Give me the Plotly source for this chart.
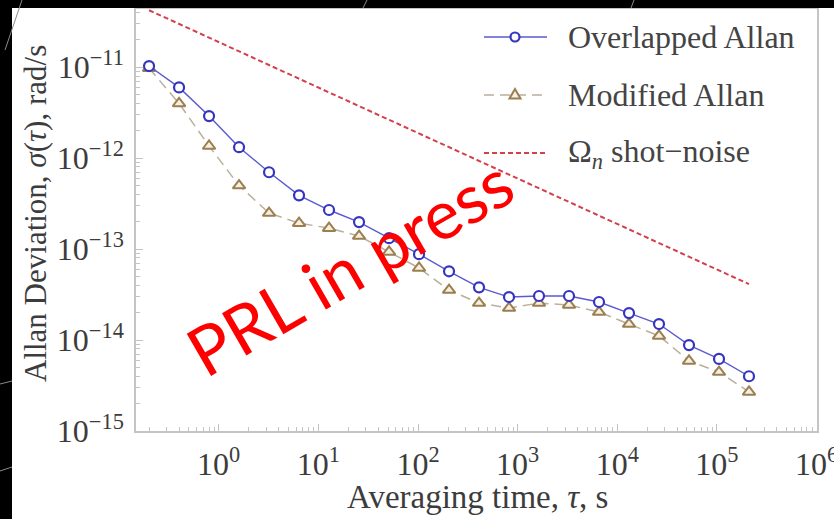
import numpy as np
import plotly.graph_objects as go

# ---------------- data ----------------
tau = [0.2 * 2 ** k for k in range(21)]  # averaging times, s (doubling from 0.2 s)
overlapped_allan = [1.03e-11, 6.0e-12, 2.9e-12, 1.32e-12, 7.0e-13, 3.9e-13, 2.69e-13,
                    1.98e-13, 1.32e-13, 8.8e-14, 5.7e-14, 3.8e-14, 2.97e-14, 3.05e-14,
                    3.05e-14, 2.62e-14, 1.98e-14, 1.50e-14, 8.8e-15, 6.2e-15, 4.0e-15]
modified_allan = [9.75e-12, 4.0e-12, 1.36e-12, 5.0e-13, 2.49e-13, 1.93e-13, 1.70e-13,
                  1.39e-13, 9.3e-14, 6.2e-14, 3.54e-14, 2.55e-14, 2.25e-14, 2.55e-14,
                  2.43e-14, 2.03e-14, 1.50e-14, 1.11e-14, 5.9e-15, 4.45e-15, 2.69e-15]
shot_tau = [0.2, 209715.2]
shot_noise = [4.23e-11, 4.12e-14]

x_tick_vals = [1e0, 1e1, 1e2, 1e3, 1e4, 1e5, 1e6]
x_tick_text = ["10<sup>0</sup>", "10<sup>1</sup>", "10<sup>2</sup>", "10<sup>3</sup>",
               "10<sup>4</sup>", "10<sup>5</sup>", "10<sup>6</sup>"]
y_tick_vals = [1e-15, 1e-14, 1e-13, 1e-12, 1e-11]
y_tick_text = ["10<sup>−15</sup>", "10<sup>−14</sup>", "10<sup>−13</sup>",
               "10<sup>−12</sup>", "10<sup>−11</sup>"]

series_names = ["Overlapped Allan", "Modified Allan", "Ω<sub><i>n</i></sub> shot−noise"]

# ---------------- styles ----------------
BLUE_LINE = "#5a5ad0"
BLUE_MK = "#3535c0"
TAN_LINE = "#b9af9c"
TAN_MK = "#9c7f50"
RED = "#d2404c"
FRAME = "#c4c4c4"
SERIF = "Liberation Serif, Times New Roman, serif"
TXT = "#3c3c3c"

fig = go.Figure()
fig.add_trace(go.Scatter(
    x=shot_tau, y=shot_noise, mode="lines", name=series_names[2],
    line=dict(color=RED, width=2, dash="5px,3px"), showlegend=False))
fig.add_trace(go.Scatter(
    x=tau, y=modified_allan, mode="lines+markers", name=series_names[1],
    line=dict(color=TAN_LINE, width=1.5, dash="10px,6px"),
    marker=dict(symbol="triangle-up", size=11, color="#f6f0e2",
                line=dict(color=TAN_MK, width=2)), showlegend=False))
fig.add_trace(go.Scatter(
    x=tau, y=overlapped_allan, mode="lines+markers", name=series_names[0],
    line=dict(color=BLUE_LINE, width=1.4),
    marker=dict(symbol="circle", size=10, color="white",
                line=dict(color=BLUE_MK, width=2.2)), showlegend=False))

minor_x = [m * 10.0 ** e for e in range(-1, 6) for m in range(2, 10)]
minor_y = [m * 10.0 ** e for e in range(-15, -10) for m in range(2, 10)]

axis_common = dict(showline=True, linecolor=FRAME, linewidth=1.5, mirror=True,
                   ticks="inside", ticklen=7, tickcolor=FRAME, tickwidth=1,
                   showgrid=False, zeroline=False, ticklabeloverflow="allow",
                   automargin=False,
                   tickfont=dict(family=SERIF, size=32, color=TXT))

fig.update_xaxes(type="log", range=[-0.83, 6.004], tickvals=x_tick_vals, ticktext=x_tick_text,
                 minor=dict(tickvals=minor_x, ticks="inside", ticklen=4, tickcolor=FRAME),
                 ticklabelstandoff=4, **axis_common)
fig.update_yaxes(type="log", range=[-15, -10.36], tickvals=y_tick_vals, ticktext=y_tick_text,
                 minor=dict(tickvals=minor_y, ticks="inside", ticklen=4, tickcolor=FRAME),
                 ticklabelstandoff=4, **axis_common)

W, H = 834, 519
L, R, T, B = 136, 17, 9, 88
pw, ph = W - L - R, H - T - B


def px(x):
    return (x - L) / pw


def py(y):
    return (H - B - y) / ph


shapes = []
annotations = []

# black slide background strips
shapes.append(dict(type="rect", xref="paper", yref="paper", x0=px(0), x1=px(W), y0=py(8), y1=py(0),
                   fillcolor="black", line=dict(width=0), layer="above"))
shapes.append(dict(type="rect", xref="paper", yref="paper", x0=px(0), x1=px(12), y0=py(H), y1=py(0),
                   fillcolor="black", line=dict(width=0), layer="above"))
for (xa, ya, xb, yb) in [(22, 0, 5, 50), (367, 0, 363, 8), (634, 0, 631, 8),
                         (0, 384, 12, 381), (0, 471, 12, 467)]:
    shapes.append(dict(type="line", xref="paper", yref="paper", x0=px(xa), y0=py(ya),
                       x1=px(xb), y1=py(yb), line=dict(color="#8a8a8a", width=1), layer="above"))

# legend (drawn manually)
rows = [37, 95, 153]
lx0, lx1, lmk, ltx = 484, 547, 515, 566
shapes.append(dict(type="line", xref="paper", yref="paper", x0=px(lx0), x1=px(lx1),
                   y0=py(rows[0]), y1=py(rows[0]), line=dict(color=BLUE_LINE, width=1.4)))
shapes.append(dict(type="circle", xref="paper", yref="paper", xsizemode="pixel", ysizemode="pixel",
                   xanchor=px(lmk), yanchor=py(rows[0]), x0=-4.5, x1=4.5, y0=-4.5, y1=4.5,
                   fillcolor="white", line=dict(color=BLUE_MK, width=2.2)))
shapes.append(dict(type="line", xref="paper", yref="paper", x0=px(lx0), x1=px(lx1),
                   y0=py(rows[1]), y1=py(rows[1]), line=dict(color=TAN_LINE, width=1.5, dash="10px,6px")))
shapes.append(dict(type="path", xref="paper", yref="paper", xsizemode="pixel", ysizemode="pixel",
                   xanchor=px(lmk), yanchor=py(rows[1]), path="M-5.5,-3.5 L5.5,-3.5 L0,6 Z",
                   fillcolor="#f6f0e2", line=dict(color=TAN_MK, width=2)))
shapes.append(dict(type="line", xref="paper", yref="paper", x0=px(lx0), x1=px(lx1),
                   y0=py(rows[2]), y1=py(rows[2]), line=dict(color=RED, width=2, dash="5px,3px")))
for name, r in zip(series_names, rows):
    annotations.append(dict(text=name, xref="paper", yref="paper", x=px(ltx), y=py(r),
                            xanchor="left", yanchor="middle", showarrow=False,
                            font=dict(family=SERIF, size=32, color="#444444")))

# axis titles
annotations.append(dict(text="Allan Deviation, <i>σ</i>(<i>τ</i>), rad/s", xref="paper", yref="paper",
                        x=px(36), y=py(214), textangle=-90, showarrow=False,
                        xanchor="center", yanchor="middle",
                        font=dict(family=SERIF, size=31, color=TXT)))
annotations.append(dict(text="Averaging time, <i>τ</i>, s", xref="paper", yref="paper",
                        x=px(477), y=py(497), showarrow=False, xanchor="center", yanchor="middle",
                        font=dict(family=SERIF, size=33, color=TXT)))

# watermark
annotations.append(dict(text="PRL in press", xref="paper", yref="paper", x=px(349), y=py(265),
                        textangle=-30, showarrow=False, xanchor="center", yanchor="middle",
                        font=dict(family="Lato, Open Sans, sans-serif", size=68, color="#ff0000")))

fig.update_layout(width=W, height=H, margin=dict(l=L, r=R, t=T, b=B, autoexpand=False),
                  paper_bgcolor="white", plot_bgcolor="white",
                  shapes=shapes, annotations=annotations, showlegend=False)

fig.write_html("out.html")
